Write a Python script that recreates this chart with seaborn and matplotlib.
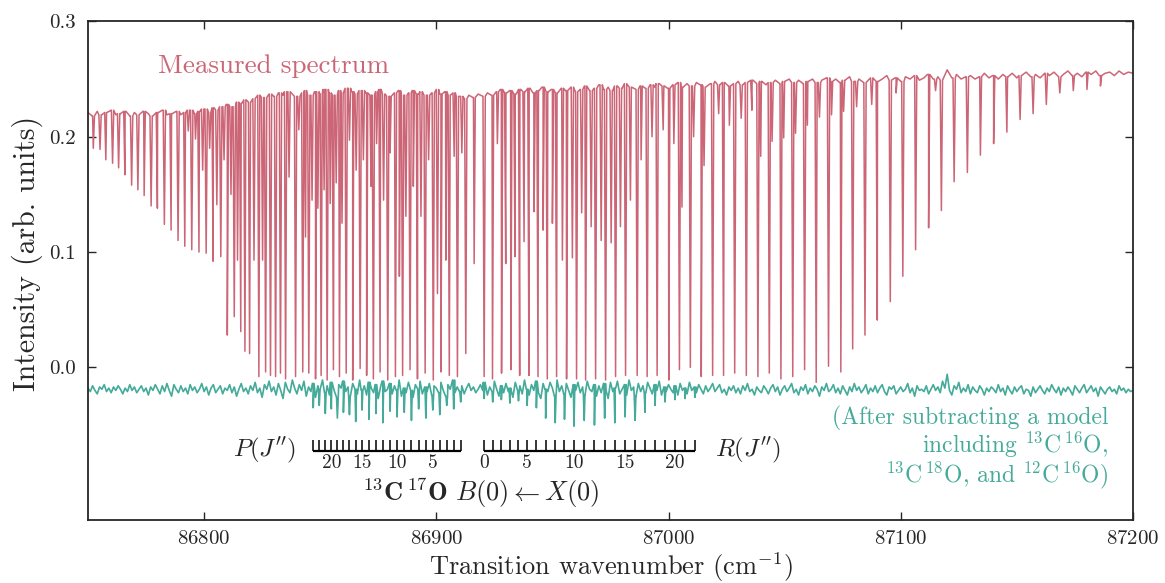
import numpy as np
import pandas as pd
import matplotlib
matplotlib.use("Agg")
from matplotlib import pyplot as plt
import seaborn as sns

ROSE = "#CC6677"
TEAL = "#44AA99"

# measured continuum, sampled every 2 cm-1 from 86750 to 87200
cont_wn = np.arange(86750, 87201, 2)
cont_val = [
    0.221, 0.218, 0.222, 0.219, 0.221, 0.223, 0.219, 0.220, 0.222, 0.218,
    0.221, 0.219, 0.222, 0.220, 0.218, 0.221, 0.223, 0.219, 0.220, 0.222,
    0.219, 0.221, 0.223, 0.220, 0.222, 0.224, 0.221, 0.225, 0.223, 0.226,
    0.228, 0.226, 0.230, 0.229, 0.232, 0.230, 0.233, 0.236, 0.234, 0.237,
    0.235, 0.238, 0.236, 0.239, 0.237, 0.235, 0.238, 0.240, 0.236, 0.239,
    0.237, 0.241, 0.238, 0.236, 0.240, 0.238, 0.242, 0.239, 0.237, 0.240,
    0.238, 0.236, 0.239, 0.241, 0.237, 0.235, 0.238, 0.240, 0.236, 0.238,
    0.240, 0.237, 0.239, 0.236, 0.238, 0.241, 0.237, 0.239, 0.236, 0.238,
    0.235, 0.233, 0.236, 0.234, 0.237, 0.235, 0.238, 0.236, 0.239, 0.241,
    0.238, 0.240, 0.237, 0.241, 0.239, 0.242, 0.238, 0.240, 0.243, 0.239,
    0.241, 0.238, 0.242, 0.240, 0.243, 0.239, 0.241, 0.244, 0.240, 0.242,
    0.245, 0.241, 0.243, 0.240, 0.244, 0.242, 0.246, 0.243, 0.241, 0.244,
    0.242, 0.245, 0.243, 0.246, 0.244, 0.242, 0.245, 0.247, 0.243, 0.246,
    0.244, 0.247, 0.245, 0.243, 0.246, 0.248, 0.245, 0.247, 0.244, 0.246,
    0.248, 0.245, 0.247, 0.249, 0.246, 0.248, 0.245, 0.247, 0.249, 0.246,
    0.248, 0.250, 0.247, 0.249, 0.246, 0.248, 0.250, 0.247, 0.249, 0.251,
    0.248, 0.250, 0.247, 0.249, 0.252, 0.248, 0.250, 0.247, 0.249, 0.251,
    0.248, 0.250, 0.253, 0.249, 0.251, 0.248, 0.252, 0.250, 0.253, 0.249,
    0.251, 0.254, 0.250, 0.252, 0.249, 0.258, 0.251, 0.254, 0.250, 0.252,
    0.253, 0.250, 0.252, 0.255, 0.251, 0.253, 0.250, 0.254, 0.252, 0.255,
    0.251, 0.253, 0.256, 0.252, 0.254, 0.251, 0.255, 0.253, 0.256, 0.252,
    0.254, 0.257, 0.253, 0.255, 0.252, 0.256, 0.254, 0.257, 0.253, 0.255,
    0.256, 0.253, 0.257, 0.254, 0.256, 0.255,
]

# absorption lines of the measured spectrum: centre (cm-1) and bottom
line_wn = [
    86752.3, 86755.2, 86757.7, 86760.6, 86763.2, 86765.9, 86768.8, 86771.5,
    86774.2, 86777.2, 86779.9, 86782.9, 86785.8, 86788.8, 86791.7, 86793.2,
    86794.7, 86796.3, 86797.8, 86799.4, 86800.9, 86802.4, 86803.9, 86805.5,
    86807.2, 86808.6, 86810.0, 86811.6, 86813.0, 86814.4, 86815.8, 86817.6,
    86819.6, 86821.5, 86823.6, 86825.2, 86826.5, 86828.6, 86830.8, 86832.9,
    86835.1, 86836.6, 86839.4, 86840.8, 86842.5, 86843.7, 86845.1, 86846.5,
    86848.0, 86849.0, 86850.4, 86851.7, 86853.0, 86854.3, 86855.7, 86856.9,
    86858.3, 86859.4, 86861.2, 86862.6, 86864.0, 86865.5, 86867.2, 86868.6,
    86870.0, 86871.9, 86872.9, 86874.3, 86875.8, 86877.3, 86879.1, 86880.1,
    86882.4, 86884.1, 86885.5, 86886.9, 86888.7, 86890.1, 86891.9, 86893.4,
    86895.2, 86896.7, 86898.7, 86900.5, 86902.0, 86904.1, 86905.6, 86907.7,
    86909.1, 86911.0, 86912.7, 86916.3, 86920.6, 86924.2, 86926.3, 86928.1,
    86929.9, 86932.1, 86933.9, 86935.9, 86937.8, 86939.9, 86942.1, 86943.8,
    86946.0, 86947.8, 86950.0, 86951.8, 86954.3, 86956.1, 86958.6, 86960.4,
    86962.6, 86964.3, 86966.7, 86968.6, 86971.0, 86972.9, 86975.3, 86977.2,
    86979.3, 86981.5, 86983.6, 86986.5, 86988.2, 86990.8, 86992.9, 86995.1,
    86997.7, 87000.1, 87002.3, 87004.7, 87005.8, 87009.4, 87010.8, 87014.1,
    87015.3, 87019.0, 87021.6, 87023.7, 87026.2, 87028.5, 87031.3, 87033.5,
    87035.9, 87038.5, 87039.7, 87043.4, 87044.6, 87048.4, 87049.6, 87053.5,
    87054.7, 87058.6, 87059.8, 87063.6, 87065.0, 87068.9, 87070.2, 87074.2,
    87075.4, 87079.3, 87081.0, 87084.6, 87087.5, 87089.9, 87095.5, 87098.0,
    87100.9, 87106.4, 87112.0, 87115.0, 87117.5, 87123.0, 87128.7, 87134.3,
    87140.0, 87145.7, 87151.4, 87157.0, 87162.7, 87168.5, 87174.3, 87180.2,
    87186.0,
]
line_min = [
    0.190, 0.189, 0.180, 0.177, 0.173, 0.167, 0.158, 0.154,
    0.149, 0.140, 0.138, 0.124, 0.119, 0.110, 0.105, 0.205,
    0.102, 0.198, 0.100, 0.171, 0.099, 0.190, 0.092, 0.141,
    0.096, 0.180, 0.028, 0.150, 0.044, 0.093, 0.031, 0.014,
    0.012, 0.093, -0.008, 0.093, -0.004, -0.007, -0.008, -0.005,
    -0.010, 0.165, -0.008, 0.206, -0.004, 0.113, -0.005, 0.145,
    -0.010, 0.138, -0.007, 0.154, -0.011, 0.142, -0.002, 0.160,
    -0.008, 0.125, -0.005, 0.197, -0.011, 0.171, -0.001, 0.180,
    -0.007, 0.157, -0.010, 0.194, -0.004, 0.145, -0.011, 0.186,
    -0.008, 0.079, -0.007, 0.131, -0.002, 0.157, -0.010, 0.131,
    -0.005, 0.180, -0.011, 0.064, -0.004, 0.093, -0.007, 0.183,
    -0.008, 0.186, 0.012, 0.090, -0.008, -0.010, 0.194, -0.005,
    0.090, -0.002, 0.096, -0.007, 0.109, -0.007, 0.135, -0.008,
    0.119, -0.010, 0.125, -0.008, 0.093, -0.010, 0.095, -0.010,
    0.134, -0.011, 0.122, -0.010, 0.110, -0.011, 0.108, -0.008,
    0.122, -0.007, 0.145, -0.007, 0.180, -0.008, 0.200, -0.007,
    0.206, -0.011, 0.194, -0.002, 0.139, 0.000, 0.200, -0.008,
    0.175, -0.007, 0.220, -0.007, 0.210, -0.005, 0.216, -0.007,
    0.223, -0.008, 0.183, -0.005, 0.196, -0.010, 0.199, -0.008,
    0.203, -0.002, 0.210, -0.013, 0.217, 0.001, 0.219, -0.004,
    0.222, 0.016, 0.226, 0.028, 0.228, 0.041, 0.057, 0.238,
    0.079, 0.102, 0.121, 0.240, 0.136, 0.161, 0.169, 0.184,
    0.194, 0.204, 0.215, 0.220, 0.228, 0.238, 0.240, 0.241,
    0.244,
]

# residual after model subtraction, every 1 cm-1 (units of 1e-3)
resid_wn = np.arange(86750, 87201, 1)
resid_milli = [
    -18, -21, -16, -20, -23, -17, -19, -15, -21, -18,
    -22, -17, -20, -16, -19, -23, -18, -21, -15, -20,
    -17, -22, -19, -16, -21, -18, -24, -17, -20, -15,
    -19, -23, -16, -21, -14, -20, -25, -15, -19, -22,
    -16, -21, -18, -23, -15, -20, -17, -22, -19, -14,
    -21, -17, -24, -18, -15, -22, -19, -16, -23, -18,
    -20, -15, -22, -17, -25, -19, -14, -21, -18, -23,
    -16, -20, -13, -22, -18, -26, -15, -19, -12, -21,
    -17, -24, -14, -20, -27, -13, -19, -22, -11, -18,
    -23, -15, -20, -12, -25, -17, -21, -14, -26, -16,
    -19, -11, -22, -16, -24, -13, -20, -26, -15, -18,
    -12, -21, -17, -25, -14, -19, -23, -11, -20, -16,
    -24, -13, -18, -22, -15, -27, -17, -12, -21, -19,
    -14, -23, -16, -20, -11, -25, -18, -22, -13, -20,
    -26, -15, -19, -12, -23, -17, -21, -14, -24, -16,
    -18, -22, -13, -20, -25, -15, -19, -11, -22, -17,
    -21, -16, -23, -18, -14, -20, -17, -22, -19, -15,
    -20, -13, -24, -17, -21, -12, -19, -25, -16, -22,
    -14, -21, -18, -26, -13, -20, -16, -23, -11, -19,
    -24, -15, -20, -12, -22, -27, -14, -19, -21, -13,
    -18, -25, -11, -21, -16, -23, -14, -20, -26, -15,
    -20, -13, -22, -17, -24, -12, -19, -21, -15, -25,
    -16, -22, -14, -19, -27, -13, -21, -18, -12, -23,
    -19, -15, -24, -11, -20, -17, -25, -14, -21, -16,
    -22, -13, -18, -23, -15, -20, -12, -24, -17, -21,
    -15, -19, -22, -16, -24, -14, -20, -18, -23, -13,
    -20, -17, -22, -15, -19, -23, -16, -21, -18, -14,
    -21, -18, -15, -22, -19, -24, -17, -20, -16, -22,
    -18, -23, -16, -20, -14, -21, -19, -24, -17, -20,
    -22, -16, -19, -23, -18, -15, -21, -17, -24, -19,
    -16, -21, -18, -14, -22, -19, -24, -17, -20, -15,
    -23, -18, -21, -16, -19, -25, -17, -20, -14, -21,
    -19, -15, -22, -18, -23, -16, -20, -24, -17, -21,
    -14, -20, -17, -22, -19, -15, -23, -18, -21, -16,
    -22, -18, -15, -21, -24, -17, -19, -16, -23, -20,
    -17, -21, -19, -14, -22, -18, -25, -16, -20, -19,
    -21, -16, -23, -19, -15, -20, -17, -22, -12, -18,
    -6, -20, -24, -16, -19, -13, -22, -18, -21, -15,
    -23, -17, -20, -22, -16, -19, -24, -18, -21, -17,
    -19, -22, -15, -21, -18, -24, -16, -20, -23, -17,
    -21, -18, -16, -23, -19, -20, -25, -17, -22, -19,
    -16, -20, -23, -18, -21, -15, -19, -22, -17, -24,
    -18, -21, -17, -20, -24, -16, -19, -22, -18, -15,
    -22, -19, -16, -21, -18, -25, -17, -20, -23, -19,
    -17, -21, -19, -23, -16, -20, -18, -22, -19, -21,
    -20,
]

# 13C17O B(0)-X(0) line positions: P(1)..P(23) and R(0)..R(22)
p_wn = [86910.5, 86907.5, 86904.5, 86901.5, 86898.5, 86895.5, 86892.4, 86889.3,
        86886.2, 86883.1, 86880.1, 86877.0, 86874.0, 86871.0, 86868.0, 86865.3,
        86862.6, 86860.0, 86857.4, 86854.8, 86852.2, 86849.6, 86847.0]
r_wn = [86920.6, 86924.3, 86928.0, 86931.7, 86935.4, 86939.1, 86943.1, 86947.1,
        86951.2, 86955.2, 86959.3, 86963.7, 86968.1, 86972.5, 86976.9, 86981.3,
        86985.6, 86989.9, 86994.2, 86998.5, 87002.8, 87007.1, 87011.4]
# residual dips at those lines
p_dip = [-0.030, -0.036, -0.033, -0.041, -0.037, -0.044, -0.036, -0.046,
         -0.039, -0.043, -0.038, -0.048, -0.040, -0.045, -0.037, -0.047,
         -0.041, -0.039, -0.044, -0.036, -0.040, -0.033, -0.035]
r_dip = [-0.027, -0.030, -0.028, -0.031, -0.029, -0.033, -0.035, -0.044,
         -0.048, -0.045, -0.051, -0.046, -0.050, -0.044, -0.048, -0.043,
         -0.046, -0.039, -0.033, -0.030, -0.028, -0.027, -0.026]
p_labels = [20, 15, 10, 5]
r_labels = [0, 5, 10, 15, 20]


def with_dips(grid, base, centres, bottoms, half=0.5):
    # continuum samples plus a narrow V for every line
    grid = np.asarray(grid, float)
    base = np.asarray(base, float)
    xs, ys = [grid], [base]
    for c, b in zip(centres, bottoms):
        top = base[np.abs(grid - c).argmin()]
        xs.append([c - half, c, c + half])
        ys.append([top, b, top])
    x = np.concatenate(xs)
    y = np.concatenate(ys)
    order = np.argsort(x, kind="stable")
    return pd.DataFrame({"wn": x[order], "val": y[order]})


sns.set_style("ticks")
plt.rcParams["font.family"] = ["cmr10", "DejaVu Serif"]
plt.rcParams["mathtext.fontset"] = "cm"
plt.rcParams["axes.formatter.use_mathtext"] = True

fig, ax = plt.subplots(figsize=(11.65, 5.83), dpi=100)
fig.subplots_adjust(left=0.0755, right=0.9725, top=0.9633, bottom=0.108)

measured = with_dips(cont_wn, cont_val, line_wn, line_min, half=0.5)
residual = with_dips(resid_wn, np.array(resid_milli) / 1000.0,
                     p_wn + r_wn, p_dip + r_dip, half=0.35)

sns.lineplot(data=measured, x="wn", y="val", ax=ax, color=ROSE, lw=1.1,
             estimator=None, sort=False)
sns.lineplot(data=residual, x="wn", y="val", ax=ax, color=TEAL, lw=1.2,
             estimator=None, sort=False)

# assignment bars for 13C17O
bar_y, tick_top, num_y = -0.0726, -0.063, -0.0826
for pos in (p_wn, r_wn):
    ax.hlines(bar_y, min(pos), max(pos), color="black", lw=1.6)
    ax.vlines(pos, bar_y, tick_top, color="black", lw=1.1)
for j in p_labels:
    ax.text(p_wn[j - 1], num_y, str(j), ha="center", va="center", fontsize=14)
for j in r_labels:
    ax.text(r_wn[j], num_y, str(j), ha="center", va="center", fontsize=14)
ax.text(86839.5, bar_y + 0.001, r"$P(J'')$", ha="right", va="center", fontsize=18)
ax.text(87020.0, bar_y + 0.001, r"$R(J'')$", ha="left", va="center", fontsize=18)
ax.text(86919.0, -0.109,
        r"$^{13}\mathbf{C}\,^{17}\mathbf{O}\ B(0) \leftarrow X(0)$",
        ha="center", va="center", fontsize=19)

ax.text(86780, 0.261, "Measured spectrum", color=ROSE, ha="left",
        va="center", fontsize=19.5)
ax.text(87189.5, -0.033,
        "(After subtracting a model\n"
        r"including $^{13}$C$\,^{16}$O," "\n"
        r"$^{13}$C$\,^{18}$O, and $^{12}$C$\,^{16}$O)",
        color=TEAL, ha="right", va="top", multialignment="right",
        fontsize=17, linespacing=1.0)

ax.set_xlim(86750, 87200)
ax.set_ylim(-0.1324, 0.3)
ax.set_xticks([86800, 86900, 87000, 87100, 87200])
ax.set_yticks([0.0, 0.1, 0.2, 0.3])
ax.set_yticklabels(["0.0", "0.1", "0.2", "0.3"])
ax.tick_params(direction="in", length=6, width=1.0, top=True, right=True,
               labelsize=15)
ax.tick_params(axis="x", pad=7)
ax.tick_params(axis="y", pad=9)
for s in ax.spines.values():
    s.set_linewidth(1.3)
ax.set_xlabel(r"Transition wavenumber (cm$^{-1}$)", fontsize=19,
              va="center")
ax.set_ylabel("Intensity (arb. units)", fontsize=21.5, va="center",
              ha="center")
ax.xaxis.set_label_coords(0.5, -0.094)
ax.yaxis.set_label_coords(-0.058, 0.535)

fig.savefig("out.png", dpi=100)
